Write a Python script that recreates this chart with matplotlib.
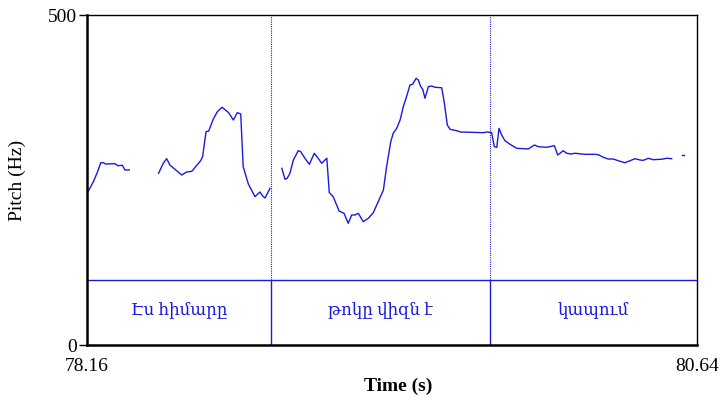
import matplotlib
matplotlib.use("Agg")
import matplotlib.pyplot as plt
import numpy as np

# ---- data ----
seg1_t = [78.164, 78.186, 78.203, 78.216, 78.226, 78.236, 78.274, 78.285, 78.304, 78.314, 78.332]
seg1_f = [232.3, 247.4, 262.6, 276.2, 276.2, 274.2, 274.7, 271.7, 272.3, 265.2, 265.2]

seg2_t = [78.451, 78.470, 78.484, 78.497, 78.545, 78.565, 78.586, 78.622, 78.630, 78.644,
          78.655, 78.673, 78.690, 78.709, 78.736, 78.755, 78.771, 78.785, 78.795, 78.816,
          78.843, 78.863, 78.874, 78.884, 78.904]
seg2_f = [260.2, 275.3, 282.3, 272.7, 257.6, 262.1, 263.2, 279.2, 285.3, 323.2,
          324.2, 342.0, 353.5, 360.2, 352.0, 340.9, 352.0, 350.0, 270.2, 243.9,
          224.7, 231.8, 225.8, 222.7, 237.4]

seg3_t = [78.952, 78.965, 78.974, 78.985, 78.999, 79.019, 79.029, 79.046, 79.064, 79.084,
          79.100, 79.114, 79.135, 79.145, 79.161, 79.185, 79.205, 79.222, 79.236, 79.250,
          79.263, 79.283, 79.304, 79.324, 79.344, 79.365, 79.378, 79.395, 79.405, 79.419,
          79.433, 79.446, 79.460, 79.473, 79.484, 79.498, 79.507, 79.517, 79.525, 79.534,
          79.548, 79.561, 79.575, 79.602, 79.611, 79.625, 79.636, 79.663, 79.679, 79.717,
          79.771, 79.787, 79.805, 79.816, 79.826, 79.835, 79.846, 79.859, 79.880, 79.907,
          79.954, 79.979, 79.995, 80.029, 80.060, 80.074, 80.083, 80.096, 80.110, 80.128,
          80.144, 80.185, 80.225, 80.239, 80.259, 80.279, 80.300, 80.320, 80.347, 80.368,
          80.388, 80.408, 80.422, 80.442, 80.462, 80.496, 80.517, 80.537]
seg3_f = [267.7, 251.1, 252.6, 260.2, 280.3, 294.4, 292.9, 282.9, 273.8, 290.5,
          282.9, 275.3, 282.9, 230.8, 224.7, 203.0, 199.5, 184.4, 197.0, 197.0,
          199.5, 186.8, 192.0, 200.5, 217.1, 234.8, 270.2, 308.0, 320.8, 328.3,
          340.9, 361.1, 377.3, 393.9, 395.0, 404.1, 401.5, 391.4, 387.4, 373.8,
          391.4, 392.4, 390.5, 389.8, 371.2, 333.3, 326.8, 324.7, 322.7, 322.3,
          321.7, 322.7, 321.7, 300.5, 299.5, 328.3, 318.2, 309.5, 304.1, 298.0,
          297.0, 303.0, 300.5, 299.5, 302.0, 287.9, 290.5, 294.4, 290.5, 289.4,
          290.5, 288.9, 288.9, 288.3, 284.4, 281.8, 281.8, 279.2, 276.2, 279.2,
          282.3, 280.3, 279.8, 282.9, 280.8, 281.4, 282.9, 282.3]

seg4_t = [80.578, 80.588]
seg4_f = [287.4, 287.4]

t_min, t_max = 78.16, 80.64
f_min, f_max = 0, 500
tier_line = 98.5
boundaries = [78.907, 79.798]
interval_edges = [78.16, 78.907, 79.798, 80.64]
labels = ["Էս հիմարը", "թոկը վիզն է", "կապում"]

blue = "#1a1adb"
serif = ["Liberation Serif", "DejaVu Serif"]

fig = plt.figure(figsize=(7.21, 4.03), dpi=100)
ax = fig.add_axes([87/721, (403-345)/403, (697-87)/721, (345-15)/403])

for ts, fs in [(seg1_t, seg1_f), (seg2_t, seg2_f), (seg3_t, seg3_f), (seg4_t, seg4_f)]:
    ax.plot(ts, fs, color=blue, lw=1.0)

ax.axhline(tier_line, color=blue, lw=1.0)
for b in boundaries:
    ax.plot([b, b], [tier_line, f_max], color=blue, lw=0.8, ls=(0, (1, 1)))
    ax.plot([b, b], [f_min, tier_line], color=blue, lw=1.0)

for i, lab in enumerate(labels):
    xc = (interval_edges[i] + interval_edges[i+1]) / 2
    ax.text(xc, tier_line / 2 + 5, lab, color=blue, ha="center", va="center",
            fontsize=12, family=serif)

ax.set_xlim(t_min, t_max)
ax.set_ylim(f_min, f_max)

for s in ax.spines.values():
    s.set_linewidth(1.0)
    s.set_color("black")
ax.spines["left"].set_linewidth(1.8)
ax.spines["bottom"].set_linewidth(1.8)

ax.set_yticks([f_min, f_max])
ax.set_yticklabels(["0", "500"], family=serif, fontsize=14)
ax.set_xticks([])
ax.tick_params(axis="y", direction="out", length=6, width=1, pad=1)

ax.text(t_min, -0.04, "78.16", transform=ax.get_xaxis_transform(), ha="center", va="top",
        family=serif, fontsize=14)
ax.text(t_max, -0.04, "80.64", transform=ax.get_xaxis_transform(), ha="center", va="top",
        family=serif, fontsize=14)

fig.text(398/721, 1 - 386/403, "Time (s)", ha="center", va="center", family=serif,
         fontsize=14, fontweight="bold")
fig.text(17/721, 1 - 180/403, "Pitch (Hz)", ha="center", va="center", family=serif,
         fontsize=14, rotation=90)

fig.savefig("out.png", dpi=100)
